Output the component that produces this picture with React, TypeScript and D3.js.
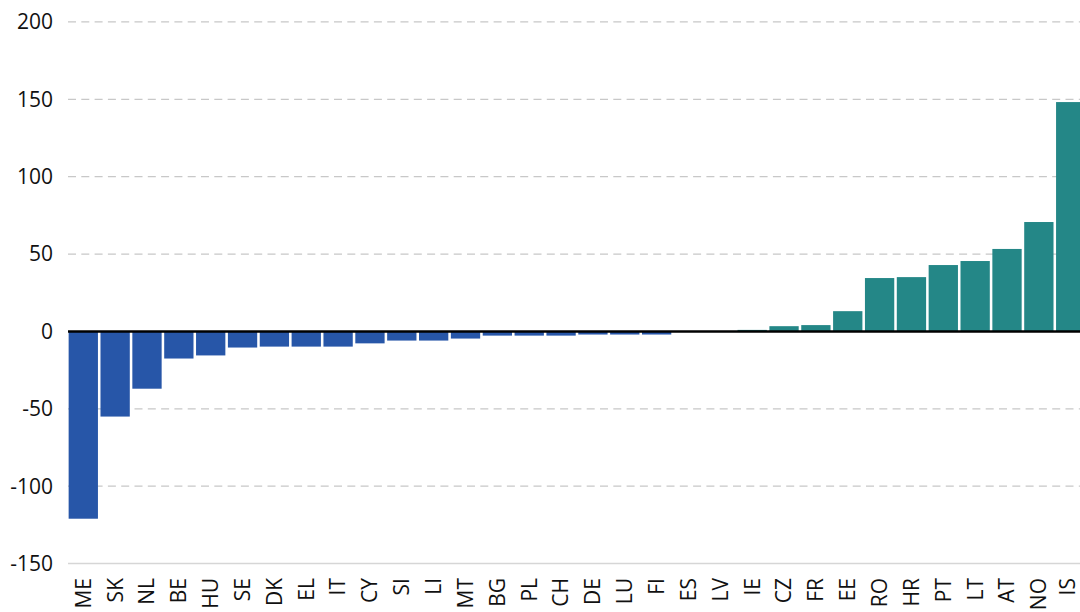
import React from "react";
import * as d3 from "d3";

const countries = ["ME","SK","NL","BE","HU","SE","DK","EL","IT","CY","SI","LI","MT","BG","PL","CH","DE","LU","FI","ES","LV","IE","CZ","FR","EE","RO","HR","PT","LT","AT","NO","IS"];
const values = [-121,-55,-37,-17.5,-15.5,-10.4,-9.8,-9.8,-9.8,-7.7,-5.9,-5.9,-4.6,-2.7,-2.7,-2.7,-2,-2,-2,0.2,0.3,1,3.4,4.1,13.1,34.5,35.1,42.9,45.5,53.3,70.7,148.2];
const yTicks = [-150,-100,-50,0,50,100,150,200];

const W = 1080, H = 612;
const BLUE = "#2756a8";
const TEAL = "#248787";
const FONT = "'Open Sans', sans-serif";

export default function App() {
  const x = d3.scaleBand<string>().domain(countries).range([68, 1086]).paddingInner(0.08).paddingOuter(0.02);
  const y = d3.scaleLinear().domain([-150, 200]).range([563.6, 21.9]);
  return (
    <svg width={W} height={H} style={{ position: "absolute", left: 0, top: 0, background: "#fff" }}>
      {yTicks.filter(t => t !== 0 && t !== -150).map(t => (
        <line key={"g" + t} x1={68} x2={1080} y1={y(t)} y2={y(t)} stroke="#c8c8c8" strokeWidth={1.2} strokeDasharray="8,5.3" />
      ))}
      <line x1={68} x2={1080} y1={y(-150)} y2={y(-150)} stroke="#d6d6d6" strokeWidth={1.5} />
      {countries.map((c, i) => {
        const v = values[i];
        return (
          <rect key={c} x={x(c)} width={x.bandwidth()} y={Math.min(y(v), y(0))} height={Math.abs(y(v) - y(0))} fill={v < 0 ? BLUE : TEAL} />
        );
      })}
      <line x1={68} x2={1080} y1={y(0)} y2={y(0)} stroke="#000" strokeWidth={2.6} />
      {yTicks.map(t => (
        <text key={"t" + t} x={53} y={y(t)} dy="0.35em" textAnchor="end" fontFamily={FONT} fontSize={21} fill="#111">{t}</text>
      ))}
      {countries.map(c => {
        const cx = Math.min((x(c) as number) + x.bandwidth() / 2, 1068);
        return (
          <text key={"l" + c} transform={`translate(${cx},578) rotate(-90)`} dy="0.35em" textAnchor="end" fontFamily={FONT} fontSize={21} fill="#111">{c}</text>
        );
      })}
    </svg>
  );
}
